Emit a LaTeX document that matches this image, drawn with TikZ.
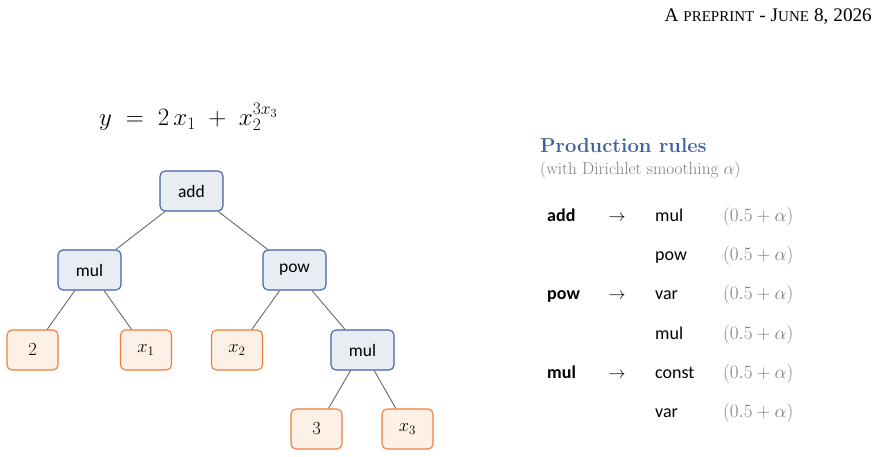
\RequirePackage{fix-cm}
\documentclass[tikz,border=0pt]{standalone}
\usepackage{fontspec}
\newfontfamily\carl{Carlito}
\newfontfamily\tms{Liberation Serif}
\definecolor{opb}{RGB}{63,98,165}
\definecolor{opf}{RGB}{232,237,244}
\definecolor{lfb}{RGB}{240,125,55}
\definecolor{lff}{RGB}{253,240,231}
\definecolor{edgec}{RGB}{105,105,105}
\definecolor{grayt}{RGB}{125,125,125}
\definecolor{titleb}{RGB}{63,98,160}
\newcommand{\bigc}[1]{{\fontsize{19.2}{22}\selectfont #1}}
\newcommand{\smc}[1]{{\fontsize{15}{18}\selectfont #1}}
\newcommand{\hsp}{\hspace{5pt}}
\begin{document}
\begin{tikzpicture}[x=1pt,y=-1pt,
  opnode/.style={draw=opb, fill=opf, rounded corners=5pt, minimum width=63pt, minimum height=40pt, line width=1.1pt, inner sep=0pt, font=\carl\fontsize{17.5}{20}\selectfont},
  leafnode/.style={draw=lfb, fill=lff, rounded corners=5pt, minimum width=51pt, minimum height=40pt, line width=1.1pt, inner sep=0pt, font=\fontsize{18.5}{22}\selectfont},
  edge/.style={draw=edgec, line width=0.9pt},
  lhs/.style={anchor=base west, inner sep=0pt, font=\carl\bfseries\fontsize{18}{21}\selectfont},
  rhs/.style={anchor=base west, inner sep=0pt, font=\carl\fontsize{18}{21}\selectfont},
  arr/.style={anchor=base, inner sep=0pt, font=\fontsize{17}{20}\selectfont},
  prob/.style={anchor=base west, inner sep=0pt, text=grayt, font=\fontsize{19}{22}\selectfont}]
\useasboundingbox (0,0) rectangle (883,457);
\node[anchor=base east, inner sep=0pt, font=\tms] (hdr) at (872,22) {\bigc{A}\hsp\smc{PREPRINT}\hsp\bigc{-}\hsp\bigc{J}\smc{UNE}\hsp\bigc{8,}\hsp\bigc{2026}};
\node[anchor=base west, inner sep=0pt, font=\fontsize{25}{29}\selectfont] (eq) at (99,126) {$y \;=\; 2\,x_1 \;+\; x_2^{3x_3}$};
% tree
\node[opnode] (add) at (191.5,191) {add};
\node[opnode] (mulA) at (89.5,270) {mul};
\node[opnode] (pow) at (294.5,270) {pow};
\node[leafnode] (two) at (32.5,350) {$2$};
\node[leafnode] (xa) at (146,350) {$x_1$};
\node[leafnode] (xb) at (237,350) {$x_2$};
\node[opnode] (mulB) at (362.5,350) {mul};
\node[leafnode] (three) at (316.5,429) {$3$};
\node[leafnode] (xc) at (407.5,429) {$x_3$};
\draw[edge] (add) -- (mulA);
\draw[edge] (add) -- (pow);
\draw[edge] (mulA) -- (two);
\draw[edge] (mulA) -- (xa);
\draw[edge] (pow) -- (xb);
\draw[edge] (pow) -- (mulB);
\draw[edge] (mulB) -- (three);
\draw[edge] (mulB) -- (xc);
% rules
\node[anchor=base west, inner sep=0pt, text=titleb, font=\bfseries\fontsize{20.2}{24}\selectfont] (ttl) at (540,153) {Production rules};
\node[anchor=base west, inner sep=0pt, text=grayt, font=\fontsize{17.2}{20}\selectfont] (sub) at (540,175) {(with Dirichlet smoothing $\alpha$)};
\node[lhs] (l1) at (547,222) {add};
\node[arr] (a1) at (617,222) {$\rightarrow$};
\node[rhs] (r1) at (655,222) {mul};
\node[prob] (p1) at (723,222) {$(0.5+\alpha)$};
\node[rhs] (r2) at (655,260) {pow};
\node[prob] (p2) at (723,260) {$(0.5+\alpha)$};
\node[lhs] (l3) at (547,299) {pow};
\node[arr] (a3) at (617,299) {$\rightarrow$};
\node[rhs] (r3) at (655,299) {var};
\node[prob] (p3) at (723,299) {$(0.5+\alpha)$};
\node[rhs] (r4) at (655,339) {mul};
\node[prob] (p4) at (723,339) {$(0.5+\alpha)$};
\node[lhs] (l5) at (547,378) {mul};
\node[arr] (a5) at (617,378) {$\rightarrow$};
\node[rhs] (r5) at (655,378) {const};
\node[prob] (p5) at (723,378) {$(0.5+\alpha)$};
\node[rhs] (r6) at (655,417) {var};
\node[prob] (p6) at (723,417) {$(0.5+\alpha)$};
\end{tikzpicture}
\end{document}
